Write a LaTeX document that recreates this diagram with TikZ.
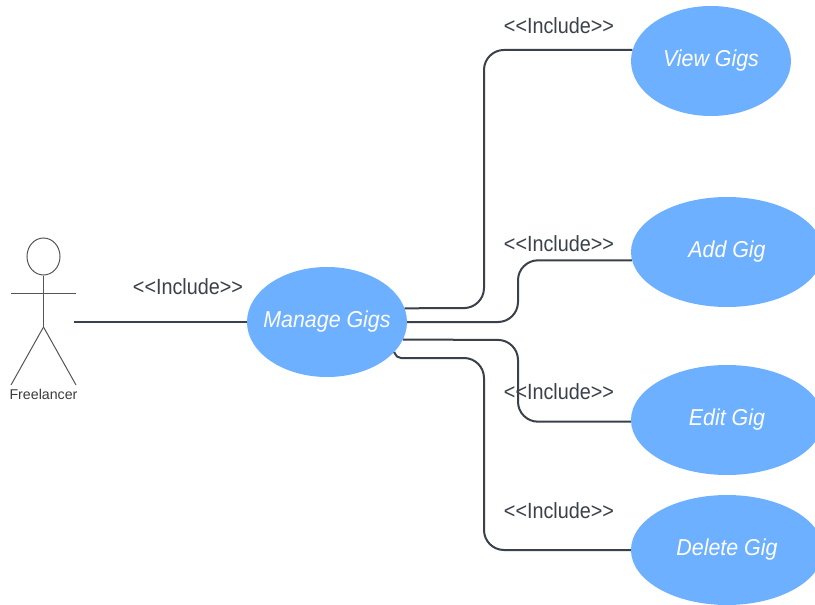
\documentclass[tikz,border=0pt]{standalone}
\usepackage{fontspec}
\setmainfont{Liberation Sans}
\newfontfamily\narrowfont{Liberation Sans}[FakeStretch=0.9]
\newfontfamily\casefont{Liberation Sans}[FakeStretch=0.93]
\usetikzlibrary{shapes.geometric}
\definecolor{gigblue}{HTML}{6DB0FF}
\definecolor{linkgrey}{HTML}{3A414A}
\definecolor{actorgrey}{HTML}{555555}
\tikzset{
  usecase/.style={ellipse,fill=gigblue,text=white,inner sep=-20pt,minimum width=#1,minimum height=110pt,font=\fontsize{23}{27}\casefont\itshape},
  usecase/.default=192pt,
  includetag/.style={text=linkgrey,inner sep=0pt,font=\fontsize{22}{26}\narrowfont},
  link/.style={draw=linkgrey,line width=2pt,rounded corners=20pt},
  stick/.style={draw=actorgrey,line width=1pt}
}
\begin{document}
\begin{tikzpicture}[x=1pt,y=-1pt]
      \useasboundingbox (0,0) rectangle (815,605);
      % use cases
      \node[usecase=160pt] (manage) at (327,322) {Manage Gigs};
      \node[usecase=160pt] (view) at (711,61) {View Gigs};
      \node[usecase] (add) at (727,252) {Add Gig};
      \node[usecase] (edit) at (727,420) {Edit Gig};
      \node[usecase] (delete) at (727,550) {Delete Gig};
      % actor
      \node[stick,ellipse,inner sep=0pt,minimum width=33pt,minimum height=37pt] (head) at (43.5,256.5) {};
      \coordinate (hip) at (43.5,327);
      \coordinate (armleft) at (11,293);
      \coordinate (armright) at (76,293);
      \coordinate (legleft) at (11,385);
      \coordinate (legright) at (76,385);
      \coordinate (hand) at (74,322);
      \node[inner sep=0pt,text=actorgrey!70!black,font=\fontsize{14.2}{17}\selectfont] (freelancer) at (43.5,394) {Freelancer};
      \begin{scope}[stick]
        \draw (head) to (hip);
        \draw (armleft) to (armright);
        \draw (hip) to (legleft);
        \draw (hip) to (legright);
      \end{scope}
      % connectors
      \draw[link] (hand) -- (manage.west);
      \draw[link] (manage.10) -- (484,308) |- (view.172);
      \draw[link] (manage.east) -- (518,322) |- (add.185);
      \draw[link] (manage.-13) -- (518,340) |- (edit.181);
      \draw[link] (manage.-24) [rounded corners=5pt] -- (396,358) [rounded corners=20pt] -- (484,358) |- (delete.west);
      % labels
      \node[includetag] (tagmanage) at (188,287) {<<Include>>};
      \node[includetag] (tagview) at (559,26) {<<Include>>};
      \node[includetag] (tagadd) at (559,244) {<<Include>>};
      \node[includetag] (tagedit) at (559,392) {<<Include>>};
      \node[includetag] (tagdelete) at (559,511) {<<Include>>};
    \end{tikzpicture}
\end{document}
